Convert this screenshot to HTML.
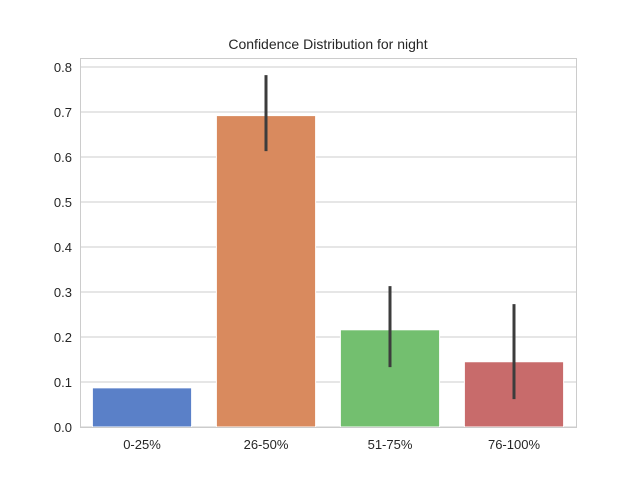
<!DOCTYPE html>
<html><head><meta charset="utf-8"><style>
body{margin:0;background:#fff;font-family:"Liberation Sans",sans-serif}
</style></head><body>
<svg id="c" width="640" height="480" xmlns="http://www.w3.org/2000/svg">
<rect width="640" height="480" fill="#fff"/>
<text x="328" y="49" text-anchor="middle" font-size="14" fill="#262626">Confidence Distribution for night</text>
<g id="grid"></g><g id="bars"></g><g id="errs"></g><g id="ticks"></g>
<rect x="80.5" y="58.5" width="496" height="369" fill="none" stroke="#ccc" stroke-width="1"/>
</svg>
<script>
const categories=["0-25%","26-50%","51-75%","76-100%"];
const values=[0.087,0.692,0.216,0.145];
const errLow=[0.087,0.613,0.133,0.062];
const errHigh=[0.087,0.782,0.313,0.273];
const yTicks=[0,0.1,0.2,0.3,0.4,0.5,0.6,0.7,0.8];
const colors=["#5a80c8","#d98a5e","#73bf6f","#c86b6b"];
const NS="http://www.w3.org/2000/svg";
const L=80,R=576,T=58,B=427,yMax=0.82;
const y=v=>B-v/yMax*(B-T);
const band=(R-L)/categories.length;
const x=i=>L+band*i+band/2;
function mk(t,a,p){const e=document.createElementNS(NS,t);for(const k in a)e.setAttribute(k,a[k]);document.getElementById(p).appendChild(e);return e;}
yTicks.forEach(t=>{
 const g=mk("line",{x1:L,x2:R,y1:y(t),y2:y(t),stroke:"#ccc","stroke-width":1},"grid");
 
 
 const l=mk("text",{x:L-8,y:y(t)+5,"text-anchor":"end","font-size":"13",fill:"#262626"},"ticks");
 l.textContent=t.toFixed(1);
 
 
});
categories.forEach((c,i)=>{
 const w=band*0.8;
 const b=mk("rect",{x:x(i)-w/2,y:y(values[i]),width:w,height:B-y(values[i]),fill:colors[i],stroke:"#fff","stroke-width":1},"bars");
 
 
 const e=mk("line",{x1:x(i),x2:x(i),y1:y(errLow[i]),y2:y(errHigh[i]),stroke:"#3c3c3c","stroke-width":3},"errs");
 
 
 const l=mk("text",{x:x(i),y:B+22,"text-anchor":"middle","font-size":"13",fill:"#262626"},"ticks");
 l.textContent=c;
 
 
});
</script>
</body></html>
